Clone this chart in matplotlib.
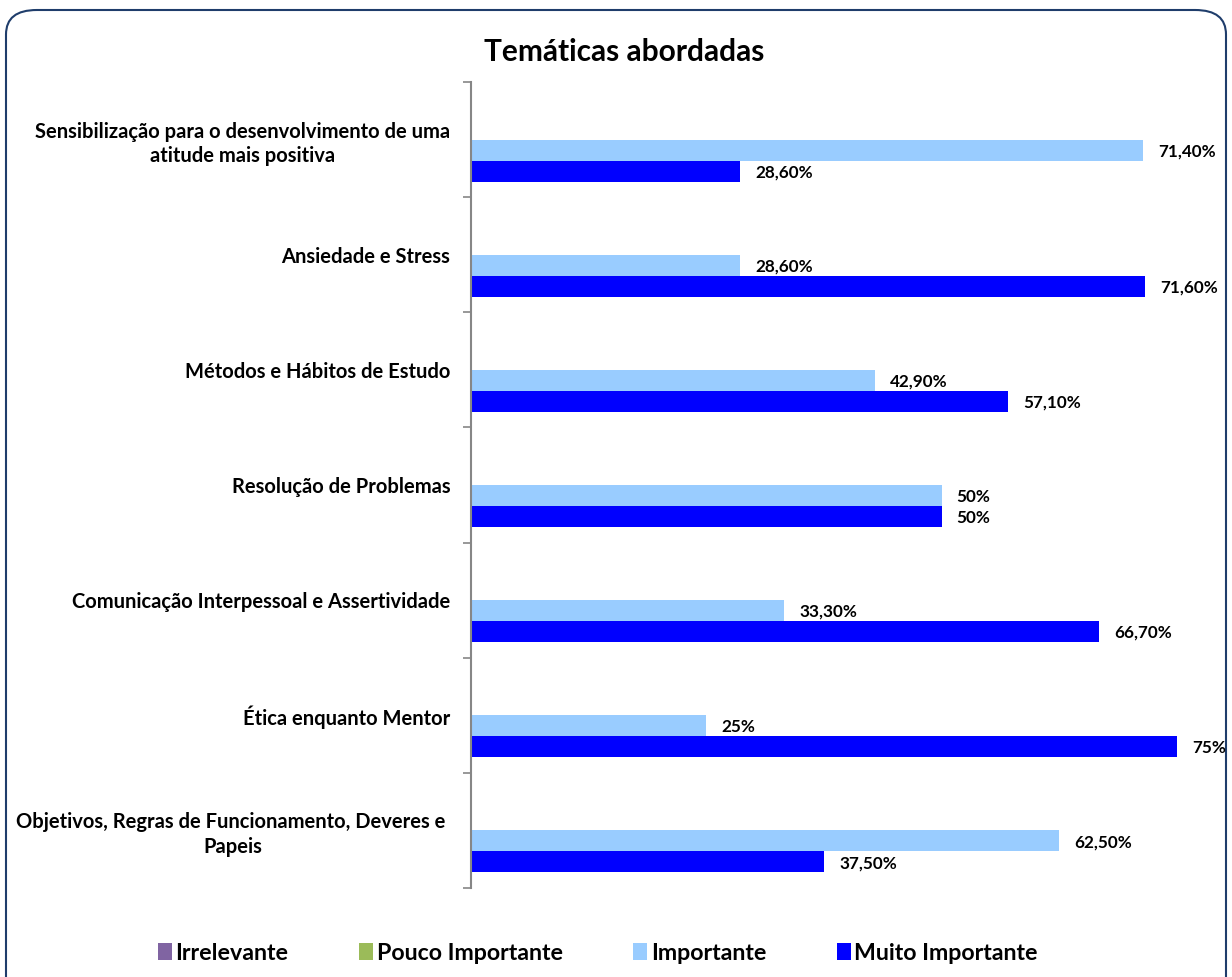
import matplotlib
matplotlib.use("Agg")
import matplotlib.pyplot as plt
from matplotlib.patches import FancyBboxPatch, Patch
import numpy as np

plt.rcParams['font.family'] = ['Lato', 'DejaVu Sans']

categories = [
    "Sensibilização para o desenvolvimento de uma\natitude mais positiva",
    "Ansiedade e Stress",
    "Métodos e Hábitos de Estudo",
    "Resolução de Problemas",
    "Comunicação Interpessoal e Assertividade",
    "Ética enquanto Mentor",
    "Objetivos, Regras de Funcionamento, Deveres e \nPapeis",
]
series_names = ["Irrelevante", "Pouco Importante", "Importante", "Muito Importante"]
irrelevante = [0, 0, 0, 0, 0, 0, 0]
pouco = [0, 0, 0, 0, 0, 0, 0]
importante = [71.4, 28.6, 42.9, 50, 33.3, 25, 62.5]
muito = [28.6, 71.6, 57.1, 50, 66.7, 75, 37.5]
importante_labels = ["71,40%", "28,60%", "42,90%", "50%", "33,30%", "25%", "62,50%"]
muito_labels = ["28,60%", "71,60%", "57,10%", "50%", "66,70%", "75%", "37,50%"]
colors = ["#8064A2", "#9BBB59", "#99CCFF", "#0000FF"]

W, H = 1232, 977
fig = plt.figure(figsize=(W / 100, H / 100), dpi=100)

# rounded frame
frame = FancyBboxPatch((6 / W, -0.05), (W - 12) / W, (H - 10) / H + 0.05,
                       boxstyle="round,pad=0,rounding_size=0.025",
                       transform=fig.transFigure, facecolor="none",
                       edgecolor="#1F3D6B", linewidth=1.5, zorder=-1)
fig.add_artist(frame)

ax = fig.add_axes([471 / W, 89 / H, 753 / W, 806 / H])
ax.set_facecolor("none")

y = np.arange(len(categories))
h = 0.1825
series = [irrelevante, pouco, importante, muito]
offsets = [-1.5 * h, -0.5 * h, 0.5 * h, 1.5 * h]
for vals, off, c in zip(series, offsets, colors):
    ax.barh(y + off, vals, height=h, color=c, edgecolor="none", zorder=2)

for i in range(len(categories)):
    ax.text(importante[i] + 1.6, y[i] + offsets[2] + 0.01, importante_labels[i],
            va="center", ha="left", fontsize=12.3, fontweight="bold", clip_on=False)
    ax.text(muito[i] + 1.6, y[i] + offsets[3] + 0.01, muito_labels[i],
            va="center", ha="left", fontsize=12.3, fontweight="bold", clip_on=False)

ax.set_xlim(0, 80)
ax.set_ylim(len(categories) - 0.5, -0.5)
ax.set_yticks(y)
ax.set_yticklabels(categories, fontsize=14.5, fontweight="bold",
                   multialignment="center", linespacing=1.3)
ax.set_yticks(np.arange(len(categories) + 1) - 0.5, minor=True)
ax.tick_params(axis="y", which="major", length=0, pad=15)
ax.tick_params(axis="y", which="minor", length=6, width=1.2, color="#868686")
ax.xaxis.set_visible(False)
for s in ["top", "right", "bottom"]:
    ax.spines[s].set_visible(False)
ax.spines["left"].set_color("#868686")
ax.spines["left"].set_linewidth(1.5)

fig.text(624 / W, 1 - 52 / H, "Temáticas abordadas", ha="center", va="center",
         fontsize=21.5, fontweight="bold")

handles = [Patch(facecolor=c, edgecolor="none") for c in colors]
fig.legend(handles, series_names, loc="center", bbox_to_anchor=(598 / W, 1 - 953 / H),
           ncol=4, frameon=False, handlelength=0.6, handleheight=0.8,
           handletextpad=0.15, columnspacing=3.05,
           prop={"size": 16.7, "weight": "bold"})

fig.savefig("out.png", dpi=100)
